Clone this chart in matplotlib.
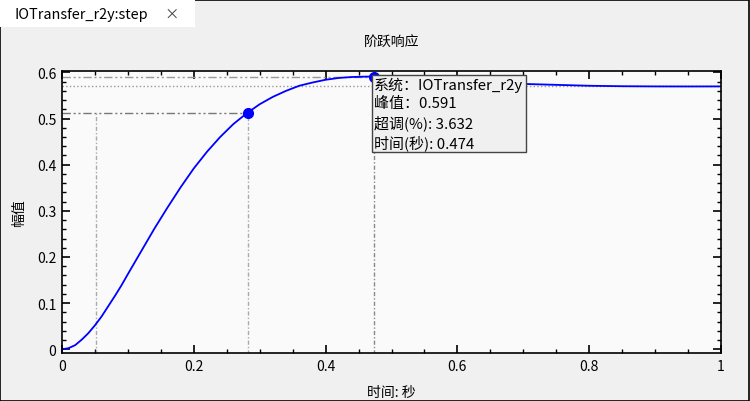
import matplotlib
matplotlib.use("Agg")
import matplotlib.pyplot as plt
from matplotlib.patches import Rectangle
from matplotlib.ticker import MultipleLocator

plt.rcParams['font.family'] = ['Noto Sans CJK SC', 'DejaVu Sans']
plt.rcParams['font.size'] = 10

# step response
time = [0.0, 0.01, 0.02, 0.03, 0.04, 0.05, 0.06, 0.07, 0.08, 0.09, 0.10,
        0.12, 0.14, 0.16, 0.18, 0.20, 0.22, 0.24, 0.26, 0.28, 0.30, 0.32,
        0.34, 0.36, 0.38, 0.40, 0.42, 0.44, 0.46, 0.474, 0.50, 0.55, 0.60,
        0.65, 0.70, 0.75, 0.80, 0.85, 0.90, 0.95, 1.0]
amplitude = [0.0, 0.0025, 0.009, 0.021, 0.035, 0.052, 0.071, 0.093, 0.115,
             0.138, 0.163, 0.212, 0.261, 0.307, 0.351, 0.392, 0.428, 0.460,
             0.488, 0.511, 0.531, 0.547, 0.560, 0.571, 0.578, 0.584, 0.588,
             0.590, 0.5908, 0.591, 0.5906, 0.587, 0.583, 0.579, 0.575, 0.573,
             0.571, 0.570, 0.5696, 0.5695, 0.5696]

rise_start = 0.052
rise_end = 0.282
rise_value = 0.513
peak_time = 0.474
peak_value = 0.591
final_value = 0.570
overshoot = 3.632

fig = plt.figure(figsize=(7.5, 4.02), dpi=100)
fig.patch.set_facecolor('#f0f0f0')

# window frame and tab
fig.patches.append(Rectangle((0.0005, 0.001), 0.998, 0.997, transform=fig.transFigure,
                             fill=False, edgecolor='black', linewidth=1.2))
fig.patches.append(Rectangle((0, 1 - 28 / 402), 195 / 750, 28 / 402, transform=fig.transFigure,
                             facecolor='white', edgecolor='none', zorder=2))
fig.text(15 / 750, 1 - 15 / 402, 'IOTransfer_r2y:step', fontsize=10.4, va='center', ha='left', zorder=3)
fig.text(164 / 750, 1 - 15 / 402, '×', fontsize=10.4, va='center', ha='left', color='#444444', zorder=3)

ax = fig.add_axes([62 / 750, 1 - 354 / 402, 659 / 750, 282 / 402])
ax.set_facecolor('#fafafa')

# reference lines
ax.plot([0, 1], [final_value, final_value], color='#999999', linestyle=':', linewidth=1)
ax.plot([0, peak_time], [peak_value, peak_value], color='#999999', linewidth=1,
        dashes=(6, 2, 1.5, 2, 1.5, 2))
ax.plot([0, rise_end], [rise_value, rise_value], color='#777777', linewidth=1,
        dashes=(6, 2, 1.5, 2, 1.5, 2))
ax.plot([rise_start, rise_start], [-0.01, rise_value], color='#aaaaaa', linewidth=1,
        dashes=(3, 1.5, 1, 1.5))
ax.plot([rise_end, rise_end], [-0.01, rise_value], color='#aaaaaa', linewidth=1,
        dashes=(3, 1.5, 1, 1.5))
ax.plot([peak_time, peak_time], [-0.01, peak_value], color='#888888', linewidth=1,
        dashes=(3, 1.5, 1, 1.5))

ax.plot(time, amplitude, color='#0000ff', linewidth=1.3)
ax.plot([rise_end, peak_time], [rise_value, peak_value], 'o', color='#0000ff', markersize=7)

ax.set_xlim(0, 1)
ax.set_ylim(-0.008, 0.603)
ax.xaxis.set_minor_locator(MultipleLocator(0.05))
ax.yaxis.set_minor_locator(MultipleLocator(0.02))
ax.set_xticks([0, 0.2, 0.4, 0.6, 0.8, 1])
ax.set_xticklabels(['0', '0.2', '0.4', '0.6', '0.8', '1'])
ax.set_yticks([0, 0.1, 0.2, 0.3, 0.4, 0.5, 0.6])
ax.set_yticklabels(['0', '0.1', '0.2', '0.3', '0.4', '0.5', '0.6'])
ax.tick_params(which='both', direction='in', top=True, right=True, labelsize=10, pad=4)
ax.tick_params(which='major', length=6, width=1.2)
ax.tick_params(which='minor', length=3, width=1)
for s in ax.spines.values():
    s.set_linewidth(1.2)

ax.set_title('阶跃响应', fontsize=10, pad=18)
ax.set_xlabel('时间: 秒', fontsize=10, labelpad=9)
ax.set_ylabel('幅值', fontsize=10, labelpad=8)

info = '系统：IOTransfer_r2y\n峰值：%.3f\n超调(%%): %.3f\n时间(秒): %.3f' % (
    peak_value, overshoot, peak_time)
ax.text(peak_time, peak_value - 0.001, info, fontsize=10.8, ha='left', va='top',
        linespacing=1.33, zorder=5,
        bbox=dict(boxstyle='square,pad=0.15', facecolor='#f0f0f0', edgecolor='#444444',
                  linewidth=1))

fig.savefig('out.png', dpi=100, facecolor=fig.get_facecolor())
